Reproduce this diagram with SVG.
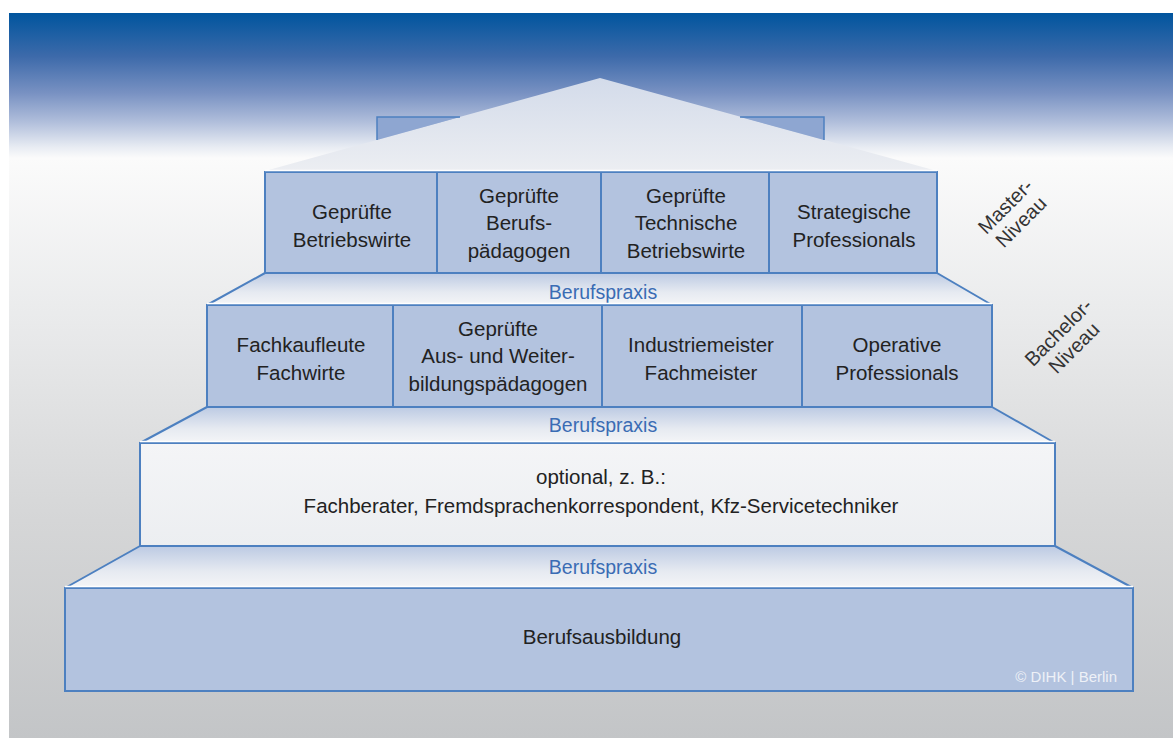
<svg xmlns="http://www.w3.org/2000/svg" width="1173" height="738" viewBox="0 0 1173 738">
<defs>
<linearGradient id="bg" x1="0" y1="13" x2="0" y2="738" gradientUnits="userSpaceOnUse">
<stop offset="0" stop-color="#00559e"/>
<stop offset="0.06" stop-color="#3d6aaa"/>
<stop offset="0.11" stop-color="#7891c2"/>
<stop offset="0.15" stop-color="#b0bedb"/>
<stop offset="0.185" stop-color="#e8ecf3"/>
<stop offset="0.2" stop-color="#fbfbfb"/>
<stop offset="0.4" stop-color="#ebeced"/>
<stop offset="0.7" stop-color="#d5d6d7"/>
<stop offset="1" stop-color="#c3c5c7"/>
</linearGradient>
<linearGradient id="roof" x1="0" y1="0" x2="0" y2="1">
<stop offset="0" stop-color="#d3dbea"/>
<stop offset="1" stop-color="#eceef2"/>
</linearGradient>
<linearGradient id="step" x1="0" y1="0" x2="0" y2="1">
<stop offset="0" stop-color="#bccae3"/>
<stop offset="0.6" stop-color="#e6eaf1"/>
<stop offset="1" stop-color="#f4f5f7"/>
</linearGradient>
<linearGradient id="opt" x1="0" y1="0" x2="0" y2="1">
<stop offset="0" stop-color="#f4f5f7"/>
<stop offset="1" stop-color="#eceef1"/>
</linearGradient>
</defs>
<style>
.tier{fill:#b3c3df;stroke:#4d80c0;stroke-width:2}
.div{stroke:#4d80c0;stroke-width:2}
.step{fill:url(#step);stroke:#4d80c0;stroke-width:2;stroke-linejoin:round}
.hl{stroke:#ffffff;stroke-width:1.5}
.chim{fill:#8ea6d1}
.chimedge{fill:none;stroke:#4d80c0;stroke-width:1.5}
.t{font-family:"Liberation Sans",Arial,sans-serif;font-size:20.5px;fill:#222222;text-anchor:middle}
.bp{font-family:"Liberation Sans",Arial,sans-serif;font-size:19.5px;fill:#3a6cb4;text-anchor:middle}
.niv{font-family:"Liberation Sans",Arial,sans-serif;font-size:20px;fill:#333333;text-anchor:middle}
</style>
<rect x="0" y="0" width="1173" height="738" fill="#ffffff"/>
<rect x="9" y="13" width="1164" height="725" fill="url(#bg)"/>

<g id="roof">
<polygon points="600,78 937,171 265,171" fill="url(#roof)"/>
<polygon class="chim" points="377,117 460,117 377,140"/>
<polyline class="chimedge" points="377,140 377,117 460,117"/>
<polygon class="chim" points="740,117 824,117 824,140"/>
<polyline class="chimedge" points="740,117 824,117 824,140"/>
</g>

<g id="steps">
<polygon class="step" points="265,273 937,273 992,305 207,305"/>
<polygon class="step" points="207,407 992,407 1055,443 140,443"/>
<polygon class="step" points="140,546 1055,546 1133,588 65,588"/>
<text class="bp" x="603" y="299">Berufspraxis</text>
<text class="bp" x="603" y="432">Berufspraxis</text>
<text class="bp" x="603" y="574">Berufspraxis</text>
</g>

<g id="master">
<rect class="tier" x="265" y="172" width="672" height="101"/>
<line class="hl" x1="265" y1="170.5" x2="937" y2="170.5"/>
<line class="div" x1="437" y1="172" x2="437" y2="273"/>
<line class="div" x1="601" y1="172" x2="601" y2="273"/>
<line class="div" x1="769" y1="172" x2="769" y2="273"/>
<g id="m1"><text class="t" x="352" y="219">Geprüfte</text><text class="t" x="352" y="247">Betriebswirte</text></g>
<g id="m2"><text class="t" x="519" y="203">Geprüfte</text><text class="t" x="519" y="230">Berufs-</text><text class="t" x="519" y="258">pädagogen</text></g>
<g id="m3"><text class="t" x="686" y="203">Geprüfte</text><text class="t" x="686" y="230">Technische</text><text class="t" x="686" y="258">Betriebswirte</text></g>
<g id="m4"><text class="t" x="854" y="219">Strategische</text><text class="t" x="854" y="247">Professionals</text></g>
</g>

<g id="bachelor">
<rect class="tier" x="207" y="305" width="785" height="102"/>
<line class="hl" x1="207" y1="303.5" x2="992" y2="303.5"/>
<line class="div" x1="393" y1="305" x2="393" y2="407"/>
<line class="div" x1="602" y1="305" x2="602" y2="407"/>
<line class="div" x1="802" y1="305" x2="802" y2="407"/>
<g id="b1"><text class="t" x="301" y="352">Fachkaufleute</text><text class="t" x="301" y="380">Fachwirte</text></g>
<g id="b2"><text class="t" x="498" y="336">Geprüfte</text><text class="t" x="498" y="363">Aus- und Weiter-</text><text class="t" x="498" y="391">bildungspädagogen</text></g>
<g id="b3"><text class="t" x="701" y="352">Industriemeister</text><text class="t" x="701" y="380">Fachmeister</text></g>
<g id="b4"><text class="t" x="897" y="352">Operative</text><text class="t" x="897" y="380">Professionals</text></g>
</g>

<g id="optional">
<rect x="140" y="443" width="915" height="103" fill="url(#opt)" stroke="#4d80c0" stroke-width="2"/>
<line class="hl" x1="140" y1="441.5" x2="1055" y2="441.5"/>
<text class="t" x="601" y="484">optional, z. B.:</text>
<text class="t" x="601" y="513">Fachberater, Fremdsprachenkorrespondent, Kfz-Servicetechniker</text>
</g>

<g id="ausbildung">
<rect class="tier" x="65" y="588" width="1068" height="103"/>
<line class="hl" x1="65" y1="586.5" x2="1133" y2="586.5"/>
<text class="t" x="602" y="644" font-size="21.5px">Berufsausbildung</text>
<text x="1117" y="682" font-family="'Liberation Sans',Arial,sans-serif" font-size="15px" fill="#eef1f7" text-anchor="end">© DIHK | Berlin</text>
</g>

<g id="levels">
<g transform="translate(1013,214) rotate(-45)">
<text class="niv" x="0" y="-4">Master-</text>
<text class="niv" x="0" y="18">Niveau</text>
</g>
<g transform="translate(1066,340) rotate(-45)">
<text class="niv" x="0" y="-4">Bachelor-</text>
<text class="niv" x="0" y="18">Niveau</text>
</g>
</g>
</svg>
